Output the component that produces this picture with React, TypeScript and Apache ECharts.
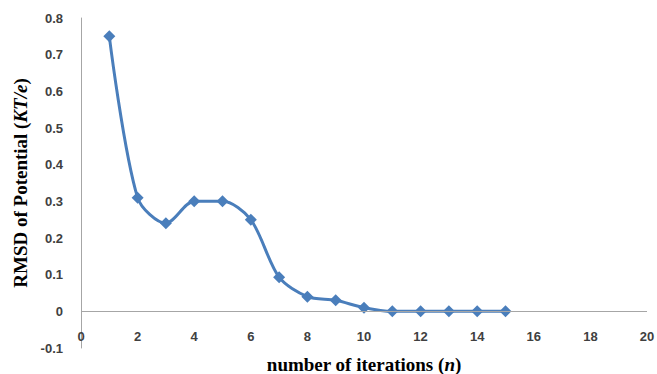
import React, { useEffect, useRef } from "react";
import * as echarts from "echarts";

const iterations = [1, 2, 3, 4, 5, 6, 7, 8, 9, 10, 11, 12, 13, 14, 15];
const rmsd = [0.75, 0.31, 0.24, 0.3, 0.3, 0.25, 0.093, 0.04, 0.03, 0.01, 0, 0, 0, 0, 0];

const titleRich = {
  a: { fontFamily: "Liberation Serif", fontWeight: "bold", fontSize: 19, color: "#000" },
  b: { fontFamily: "Liberation Serif", fontWeight: "bold", fontStyle: "italic", fontSize: 19, color: "#000" },
};

export default function App() {
  const ref = useRef<HTMLDivElement>(null);
  useEffect(() => {
    const chart = echarts.init(ref.current!, null, { renderer: "svg" });
    chart.setOption({
      animation: false,
      backgroundColor: "#ffffff",
      grid: { left: 81, right: 10, top: 18, bottom: 26, containLabel: false, outerBoundsMode: "none" },
      xAxis: {
        type: "value",
        min: 0,
        max: 20,
        interval: 2,
        axisLine: { show: false, onZero: false },
        axisTick: { show: false },
        splitLine: { show: false },
        axisLabel: {
          inside: true,
          margin: 5,
          color: "#404040",
          fontWeight: "bold",
          fontSize: 13,
          fontFamily: "Liberation Sans",
        },
        name: "{a|number of iterations (}{b|n}{a|)}",
        nameLocation: "middle",
        nameGap: 7,
        nameTextStyle: { rich: titleRich },
      },
      yAxis: {
        type: "value",
        min: -0.1,
        max: 0.8,
        interval: 0.1,
        axisLine: { show: true, lineStyle: { color: "#a6a6a6", width: 1 } },
        axisTick: { show: false },
        splitLine: { show: false },
        axisLabel: {
          margin: 18,
          color: "#404040",
          fontWeight: "bold",
          fontSize: 13,
          fontFamily: "Liberation Sans",
          formatter: (v: number) => String(Math.round(v * 10) / 10),
        },
        name: "{a|RMSD of Potential (}{b|KT/e}{a|)}",
        nameLocation: "middle",
        nameGap: 50,
        nameTextStyle: { rich: titleRich },
      },
      series: [
        {
          type: "line",
          data: iterations.map((x, i) => [x, rmsd[i]]),
          smooth: 0.3,
          symbol: "diamond",
          symbolSize: 12,
          lineStyle: { color: "#4a7ebb", width: 3 },
          itemStyle: { color: "#4a7ebb" },
          markLine: {
            silent: true,
            symbol: "none",
            label: { show: false },
            lineStyle: { color: "#a6a6a6", width: 1, type: "solid" },
            data: [{ yAxis: 0 }],
          },
        },
      ],
    });
    return () => chart.dispose();
  }, []);
  return <div ref={ref} style={{ width: 657, height: 374, position: "absolute", left: 0, top: 0 }} />;
}
